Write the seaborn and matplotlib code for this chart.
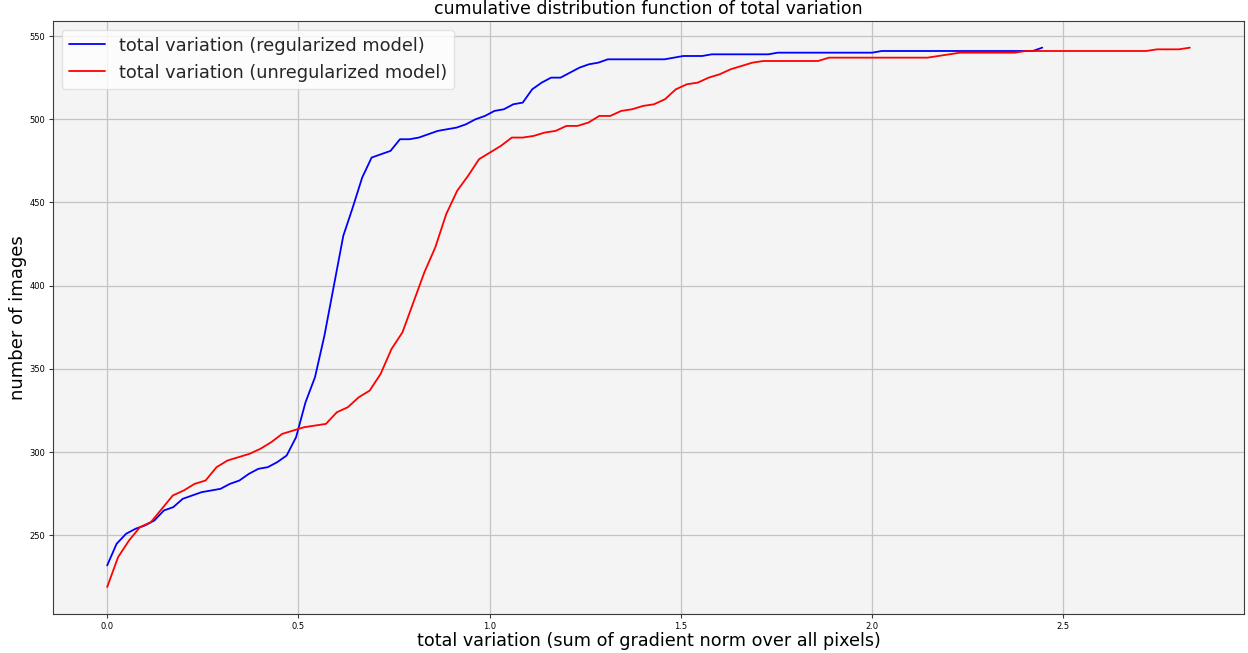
import numpy as np
import pandas as pd
import matplotlib
matplotlib.use("Agg")
import matplotlib.pyplot as plt
import seaborn as sns

# Number of images whose total variation is below each threshold
# (100 thresholds evenly spaced from 0 to the largest total variation).
tv_max_regularized = 2.445
tv_max_unregularized = 2.831

count_regularized = [
    232, 245, 251, 254, 256, 259, 265, 267, 272, 274,
    276, 277, 278, 281, 283, 287, 290, 291, 294, 298,
    309, 330, 345, 370, 400, 430, 447, 465, 477, 479,
    481, 488, 488, 489, 491, 493, 494, 495, 497, 500,
    502, 505, 506, 509, 510, 518, 522, 525, 525, 528,
    531, 533, 534, 536, 536, 536, 536, 536, 536, 536,
    537, 538, 538, 538, 539, 539, 539, 539, 539, 539,
    539, 540, 540, 540, 540, 540, 540, 540, 540, 540,
    540, 540, 541, 541, 541, 541, 541, 541, 541, 541,
    541, 541, 541, 541, 541, 541, 541, 541, 541, 543,
]

count_unregularized = [
    219, 237, 247, 255, 258, 266, 274, 277, 281, 283,
    291, 295, 297, 299, 302, 306, 311, 313, 315, 316,
    317, 324, 327, 333, 337, 347, 362, 372, 390, 408,
    423, 443, 457, 466, 476, 480, 484, 489, 489, 490,
    492, 493, 496, 496, 498, 502, 502, 505, 506, 508,
    509, 512, 518, 521, 522, 525, 527, 530, 532, 534,
    535, 535, 535, 535, 535, 535, 537, 537, 537, 537,
    537, 537, 537, 537, 537, 537, 538, 539, 540, 540,
    540, 540, 540, 540, 541, 541, 541, 541, 541, 541,
    541, 541, 541, 541, 541, 541, 542, 542, 542, 543,
]

label_regularized = "total variation (regularized model)"
label_unregularized = "total variation (unregularized model)"

thresholds_regularized = np.linspace(0, tv_max_regularized, len(count_regularized))
thresholds_unregularized = np.linspace(0, tv_max_unregularized, len(count_unregularized))

df = pd.concat([
    pd.DataFrame({"tv": thresholds_regularized, "count": count_regularized,
                  "model": label_regularized}),
    pd.DataFrame({"tv": thresholds_unregularized, "count": count_unregularized,
                  "model": label_unregularized}),
], ignore_index=True)

sns.set_style("whitegrid", {
    "axes.facecolor": "#f4f4f4",
    "grid.color": "#c4c4c4",
    "axes.edgecolor": "#3a3a3a",
    "xtick.bottom": True,
    "ytick.left": True,
})
plt.rcParams["font.family"] = ["DejaVu Sans"]

fig = plt.figure(figsize=(12.48, 6.53), dpi=100)
ax = fig.add_axes([0.0425, 0.0597, 0.9543, 0.9086])

sns.lineplot(data=df, x="tv", y="count", hue="model",
             palette={label_regularized: "blue", label_unregularized: "red"},
             linewidth=1.3, ax=ax, sort=False)

ax.set_title("cumulative distribution function of total variation",
             fontsize=12.5, pad=4.5, color="black")
ax.set_xlabel("total variation (sum of gradient norm over all pixels)",
              fontsize=12.7, labelpad=1, color="black")
ax.set_ylabel("number of images", fontsize=13, labelpad=2, color="black")
ax.tick_params(axis="both", labelsize=6, length=3, width=0.8,
               color="#3a3a3a", labelcolor="black", pad=2.5)
ax.set_xticks([0.0, 0.5, 1.0, 1.5, 2.0, 2.5])
ax.set_yticks([250, 300, 350, 400, 450, 500, 550])
ax.grid(True, linewidth=0.9)
ax.margins(x=0.05, y=0.05)

leg = ax.legend(loc="upper left", fontsize=12.8, frameon=True, title=None)
leg.get_frame().set_facecolor("white")
leg.get_frame().set_alpha(0.8)
leg.get_frame().set_edgecolor("#dddddd")

fig.savefig("out.png", dpi=100)
